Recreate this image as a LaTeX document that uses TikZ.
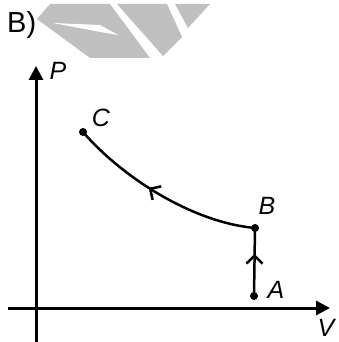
\documentclass[tikz,border=0pt]{standalone}
\usepackage{fontspec}
\setmainfont{Liberation Sans}
\usetikzlibrary{arrows.meta,decorations.markings}
\definecolor{wmgray}{RGB}{192,192,192}
\begin{document}
\begin{tikzpicture}[x=1pt,y=-1pt,
  axis/.style={line width=3pt,-{Triangle[length=14pt,width=14pt]}},
  dot/.style={circle,fill=black,inner sep=0pt,minimum size=8pt},
  lbl/.style={font=\fontsize{25}{25}\selectfont\itshape,inner sep=0pt},
  pathline/.style={line width=2.5pt},
  midarrow/.style={postaction={decorate},decoration={markings,
    mark=at position #1 with {\arrow{Straight Barb[length=8pt,width=16pt,line width=2.5pt]}}}},
  wm/.style={fill=wmgray}]
\useasboundingbox (0,0) rectangle (338,342);
% watermark
\fill[wm] (50,4) -- (110,4) -- (150,58) -- (90,58) -- (37,19) -- cycle;
\fill[white] (53,23) -- (100,25) -- (118,35) -- (95,31) -- cycle;
\fill[wm] (117,4) -- (167,4) -- (182,37) -- (163,56) -- cycle;
\fill[wm] (175,4) -- (210,4) -- (188,28) -- cycle;
% title
\node[font=\fontsize{29}{29}\selectfont,inner sep=0pt,anchor=base west] (title) at (7,33) {B)};
% axes
\coordinate (ybot) at (36,345);
\coordinate (ytop) at (36,66);
\coordinate (xl) at (8,308);
\coordinate (xr) at (330,308);
\draw[axis] (ybot) -- (ytop);
\draw[axis] (xl) -- (xr);
\node[lbl] (P) at (58,71) {P};
\node[lbl] (V) at (326,328) {V};
% states
\node[dot] (A) at (254,296) {};
\node[dot] (B) at (255,228) {};
\node[dot] (C) at (83,132) {};
\node[lbl] (Alab) at (276,290) {A};
\node[lbl] (Blab) at (267,206) {B};
\node[lbl] (Clab) at (101,118) {C};
% processes
\draw[pathline,midarrow=0.62] (A.center) -- (B.center);
\draw[pathline,midarrow=0.57] (B.center) .. controls (190,222) and (120,175) .. (C.center);
\end{tikzpicture}
\end{document}
